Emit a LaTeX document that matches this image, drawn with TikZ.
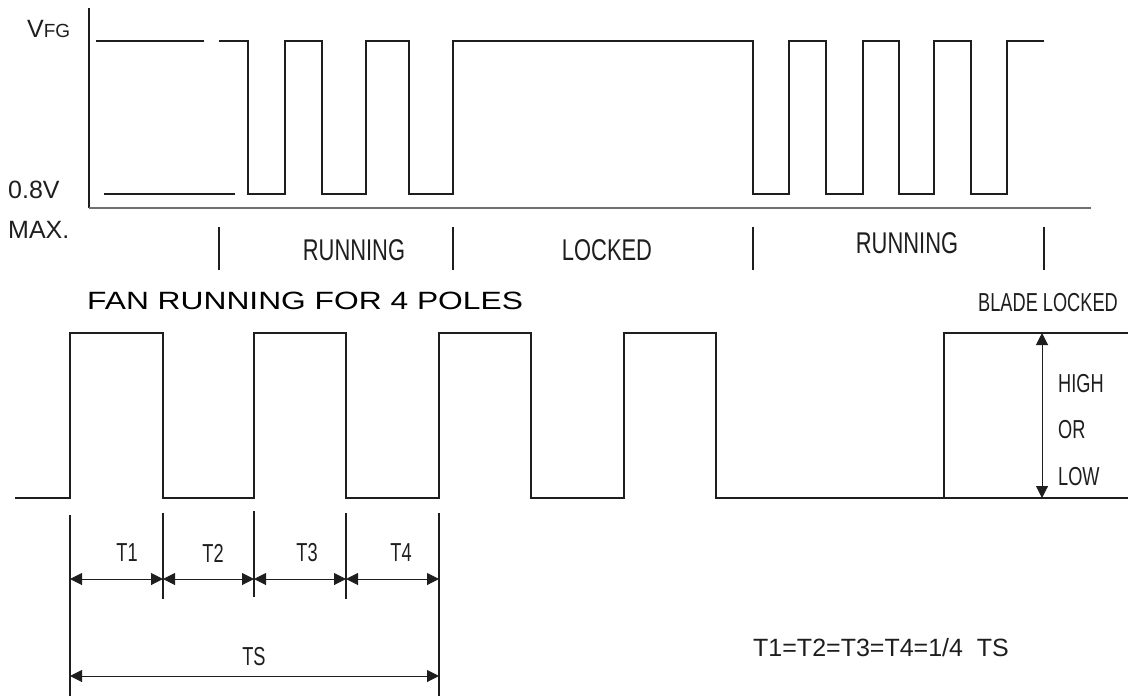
\documentclass[tikz,border=0pt]{standalone}
\usepackage{fontspec}
\usepackage{xcolor}
\usepackage{tikz}
\usetikzlibrary{arrows.meta}
\newfontfamily\isofont[FakeStretch=0.73]{Liberation Sans}
\newfontfamily\isosfont[FakeStretch=0.70]{Liberation Sans}
\newfontfamily\plainfont{Liberation Sans}
\newfontfamily\titlefont[FakeStretch=1.27]{Liberation Sans}
\definecolor{ink}{HTML}{1E1E1E}
\definecolor{axisgray}{HTML}{707070}
\tikzset{
  wave/.style={draw=ink, line width=1.1pt, line join=miter},
  axisline/.style={draw=axisgray, line width=1.5pt},
  tickline/.style={draw=ink, line width=1.1pt},
  dim/.style={draw=ink, line width=1pt, {Triangle[length=12pt,width=12pt]}-{Triangle[length=12pt,width=12pt]}},
  lab/.style={text=ink, inner sep=0pt, font=\isofont\fontsize{30}{34}\selectfont},
  labs/.style={text=ink, inner sep=0pt, font=\isosfont\fontsize{26}{30}\selectfont},
  labp/.style={text=ink, inner sep=0pt, font=\plainfont\fontsize{25}{29}\selectfont},
}

\begin{document}
\begin{tikzpicture}[x=1pt,y=-1pt]
  \useasboundingbox (0,0) rectangle (1139,696);
  \def\uH{41}
  \def\uL{194}
  \def\bH{333}
  \def\bL{498}
  % axes of the FG signal
  \draw[tickline] (89,8) -- (89,208);
  \draw[axisline] (89,208) -- (1091,208);
  \node[anchor=west, inner sep=0pt, text=ink] (vfg) at (27,29)
    {\plainfont\fontsize{25}{25}\selectfont V\fontsize{19}{19}\selectfont FG};
  \node[labp, anchor=west] (lowlim) at (8,190) {0.8V};
  \node[labp, anchor=west] (maxlim) at (8,230) {MAX.};
  % FG output
  \draw[wave] (96,\uH) -- (204,\uH);
  \draw[wave] (104,\uL) -- (235,\uL);
  \draw[wave] (219,\uH) -| (248,\uL) -| (285,\uH) -| (322,\uL) -| (366,\uH)
    -| (409,\uL) -| (453,\uH) -| (753,\uL) -| (789,\uH) -| (826,\uL)
    -| (863,\uH) -| (899,\uL) -| (934,\uH) -| (971,\uL) -| (1007,\uH) -- (1044,\uH);
  \foreach \x in {219,453,753,1044}
    \draw[tickline] (\x,227) -- (\x,270);
  \node[lab] (run1) at (354,250) {RUNNING};
  \node[lab] (locked) at (607,250) {LOCKED};
  \node[lab] (run2) at (907,243) {RUNNING};
  % 4 pole signal
  \node[anchor=west, inner sep=0pt] (title) at (87,301)
    {\titlefont\fontsize{25}{28}\selectfont FAN RUNNING FOR 4 POLES};
  \node[labs, anchor=east] (blade) at (1118,303) {BLADE LOCKED};
  \draw[wave] (15,\bL) -| (70,\bH) -| (163,\bL) -| (254,\bH) -| (346,\bL)
    -| (439,\bH) -| (531,\bL) -| (624,\bH) -| (716,\bL) -| (944,\bH) -- (1128,\bH);
  \draw[wave] (944,\bL) -- (1128,\bL);
  \draw[wave, line width=1.8pt] (870,\bL) -- (944,\bL);
  \coordinate (lvH) at (1042,\bH);
  \coordinate (lvL) at (1042,\bL);
  \draw[dim] (lvH) -- (lvL);
  \node[labs, anchor=west] (high) at (1058,384) {HIGH};
  \node[labs, anchor=west] (or) at (1058,430) {OR};
  \node[labs, anchor=west] (low) at (1058,477) {LOW};
  % periods
  \foreach \x/\ya/\yb in {70/515/696, 163/513/599, 254/511/597, 346/513/599, 439/513/696}
    \draw[tickline] (\x,\ya) -- (\x,\yb);
  \coordinate (p0) at (70,579);
  \coordinate (p1) at (163,579);
  \coordinate (p2) at (254,579);
  \coordinate (p3) at (346,579);
  \coordinate (p4) at (439,579);
  \coordinate (s0) at (70,676);
  \coordinate (s1) at (439,676);
  \draw[dim] (p0) -- (p1);
  \draw[dim] (p1) -- (p2);
  \draw[dim] (p2) -- (p3);
  \draw[dim] (p3) -- (p4);
  \draw[dim] (s0) -- (s1);
  \node[labs] (t1) at (127,553) {T1};
  \node[labs] (t2) at (213,553) {T2};
  \node[labs] (t3) at (307,553) {T3};
  \node[labs] (t4) at (401,553) {T4};
  \node[labs] (ts) at (254,657) {TS};
  \node[text=ink, inner sep=0pt, anchor=west, font=\plainfont\fontsize{25}{29}\selectfont]
    (rel) at (753,648) {T1=T2=T3=T4=1/4\ \ TS};
\end{tikzpicture}
\end{document}
